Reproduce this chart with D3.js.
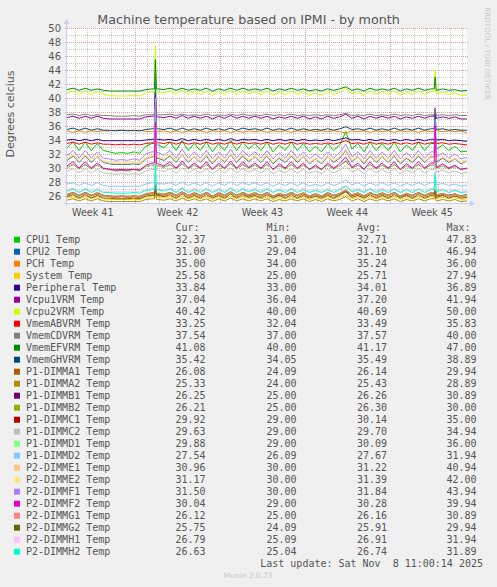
<!DOCTYPE html>
<html>
<head>
<meta charset="utf-8">
<script src="https://cdn.jsdelivr.net/npm/d3@7"></script>
<style>
body { margin: 0; background: #f0f0f0; }
svg { display: block; }
text { font-family: "DejaVu Sans", sans-serif; fill: #555; }
.mono { font-family: "DejaVu Sans Mono", monospace; }
</style>
</head>
<body>
<div id="chart"></div>
<script>

// sample times, hours after 2025-10-06 09:00 (12h samples, extra ones round the two peaks)
var hours = [0,12,24,36,48,60,72,84,96,108,120,132,144,156,168,
    173,175,177,
    180,192,204,216,228,240,252,264,276,288,300,312,324,336,348,360,372,384,396,408,420,432,444,456,468,480,492,504,516,528,540,552,564,576,588,600,612,624,636,648,660,672,684,696,708,720,
    727,729,731,
    732,744,756,768,780,792];

var seriesNames = ["CPU1 Temp","CPU2 Temp","PCH Temp","System Temp","Peripheral Temp","Vcpu1VRM Temp","Vcpu2VRM Temp",
    "VmemABVRM Temp","VmemCDVRM Temp","VmemEFVRM Temp","VmemGHVRM Temp","P1-DIMMA1 Temp","P1-DIMMA2 Temp","P1-DIMMB1 Temp",
    "P1-DIMMB2 Temp","P1-DIMMC1 Temp","P1-DIMMC2 Temp","P1-DIMMD1 Temp","P1-DIMMD2 Temp","P2-DIMME1 Temp","P2-DIMME2 Temp",
    "P2-DIMMF1 Temp","P2-DIMMF2 Temp","P2-DIMMG1 Temp","P2-DIMMG2 Temp","P2-DIMMH1 Temp","P2-DIMMH2 Temp"];

var seriesColors = ["#00cc00","#0066b3","#ff8000","#ffcc00","#330099","#990099","#ccff00",
    "#ff0000","#808080","#008f00","#00487d","#b35a00","#b38f00","#6b006b",
    "#8fb300","#b30000","#bebebe","#80ff80","#80c9ff","#ffc080","#ffe680",
    "#aa80ff","#ee00cc","#ff8080","#666600","#ffbfff","#00ffcc"];

var curValues = ["32.37","31.00","35.00","25.58","33.84","37.04","40.42","33.25","37.54","41.08","35.42","26.08","25.33","26.25",
    "26.21","29.92","29.63","29.88","27.54","30.96","31.17","31.50","30.04","26.12","25.75","26.79","26.63"];
var minValues = ["31.00","29.04","34.00","25.00","33.00","36.04","40.00","32.04","37.00","40.00","34.05","24.09","24.00","25.00",
    "25.00","29.00","29.00","29.00","26.09","30.00","30.00","30.00","29.00","25.00","24.09","25.09","25.04"];
var avgValues = ["32.71","31.10","35.24","25.71","34.01","37.20","40.69","33.49","37.57","41.17","35.49","26.14","25.43","26.26",
    "26.30","30.14","29.70","30.09","27.67","31.22","31.39","31.84","30.28","26.16","25.91","26.91","26.74"];
var maxValues = ["47.83","46.94","36.00","27.94","36.89","41.94","50.00","35.83","40.00","47.00","38.89","29.94","28.89","30.89",
    "30.00","35.00","34.94","36.00","31.94","40.94","42.00","43.94","39.94","30.89","29.94","31.94","31.89"];

var cpu1 = [32.9,33.7,32.5,33.7,32.5,33.5,32.5,32.3,32.1,32.2,32.1,32.3,32.1,33.1,33.5,
    33.5,45.5,33.3,
    33.3,32.9,33.7,32.5,33.9,32.5,33.5,32.5,33.7,32.3,33.5,32.5,33.9,32.5,33.7,32.7,33.5,32.5,33.7,32.3,33.3,32.5,33.7,32.5,33.5,32.3,33.1,32.3,33.5,32.5,33.3,35.2,32.7,33.5,32.3,33.7,32.5,33.5,32.5,33.7,32.3,33.3,32.5,33.7,32.5,33.5,
    33.5,37.5,32.7,
    32.7,33.3,32.5,33.1,32.3,32.4];
var cpu2 = [31.1,31.7,30.8,31.7,30.8,31.6,30.8,30.6,30.5,30.5,30.5,30.6,30.5,31.3,31.6,
    31.6,44.0,31.4,
    31.4,31.1,31.7,30.8,31.9,30.8,31.6,30.8,31.7,30.6,31.6,30.8,31.9,30.8,31.7,30.9,31.6,30.8,31.7,30.6,31.4,30.8,31.7,30.8,31.6,30.6,31.3,30.6,31.6,30.8,31.4,32.5,30.9,31.6,30.6,31.7,30.8,31.6,30.8,31.7,30.6,31.4,30.8,31.7,30.8,31.6,
    31.6,37.0,30.9,
    30.9,31.4,30.8,31.3,30.6,31.0];
var pch = [35.3,35.1,35.3,35.1,35.3,35.2,35.3,35.3,35.4,35.4,35.4,35.3,35.4,35.2,35.2,
    35.2,35.8,35.2,
    35.2,35.3,35.1,35.3,35.1,35.3,35.2,35.3,35.1,35.3,35.2,35.3,35.1,35.3,35.1,35.3,35.2,35.3,35.1,35.3,35.2,35.3,35.1,35.3,35.2,35.3,35.2,35.3,35.2,35.3,35.2,35.0,35.3,35.2,35.3,35.1,35.3,35.2,35.3,35.1,35.3,35.2,35.3,35.1,35.3,35.2,
    35.2,35.6,35.3,
    35.3,35.2,35.3,35.2,35.3,35.0];
var system = [25.7,25.9,25.6,25.9,25.6,25.9,25.6,25.5,25.5,25.5,25.5,25.5,25.5,25.8,25.9,
    25.9,26.8,25.8,
    25.8,25.7,25.9,25.6,26.0,25.6,25.9,25.6,25.9,25.5,25.9,25.6,26.0,25.6,25.9,25.6,25.9,25.6,25.9,25.5,25.8,25.6,25.9,25.6,25.9,25.5,25.8,25.5,25.9,25.6,25.8,26.2,25.6,25.9,25.5,25.9,25.6,25.9,25.6,25.9,25.5,25.8,25.6,25.9,25.6,25.9,
    25.9,26.2,25.6,
    25.6,25.8,25.6,25.8,25.5,25.6];
var peripheral = [34.0,34.1,33.9,34.1,33.9,34.1,33.9,33.9,33.9,33.9,33.9,33.9,33.9,34.0,34.1,
    34.1,35.5,34.1,
    34.1,34.0,34.1,33.9,34.2,33.9,34.1,33.9,34.1,33.9,34.1,33.9,34.2,33.9,34.1,34.0,34.1,33.9,34.1,33.9,34.1,33.9,34.1,33.9,34.1,33.9,34.0,33.9,34.1,33.9,34.1,34.3,34.0,34.1,33.9,34.1,33.9,34.1,33.9,34.1,33.9,34.1,33.9,34.1,33.9,34.1,
    34.1,34.5,34.0,
    34.0,34.1,33.9,34.0,33.9,33.8];
var vcpu1 = [37.2,37.4,37.1,37.4,37.1,37.4,37.1,37.0,37.0,37.0,37.0,37.0,37.0,37.3,37.4,
    37.4,40.5,37.3,
    37.3,37.2,37.4,37.1,37.5,37.1,37.4,37.1,37.4,37.0,37.4,37.1,37.5,37.1,37.4,37.1,37.4,37.1,37.4,37.0,37.3,37.1,37.4,37.1,37.4,37.0,37.3,37.0,37.4,37.1,37.3,37.7,37.1,37.4,37.0,37.4,37.1,37.4,37.1,37.4,37.0,37.3,37.1,37.4,37.1,37.4,
    37.4,38.6,37.1,
    37.1,37.3,37.1,37.3,37.0,37.0];
var vcpu2 = [40.7,41.0,40.5,41.0,40.5,40.9,40.5,40.4,40.3,40.3,40.3,40.4,40.3,40.7,40.9,
    40.9,47.5,40.8,
    40.8,40.7,41.0,40.5,41.1,40.5,40.9,40.5,41.0,40.4,40.9,40.5,41.1,40.5,41.0,40.6,40.9,40.5,41.0,40.4,40.8,40.5,41.0,40.5,40.9,40.4,40.7,40.4,40.9,40.5,40.8,41.5,40.6,40.9,40.4,41.0,40.5,40.9,40.5,41.0,40.4,40.8,40.5,41.0,40.5,40.9,
    40.9,44.0,40.6,
    40.6,40.8,40.5,40.7,40.4,40.4];
var vmemAB = [33.5,33.7,33.4,33.7,33.4,33.6,33.4,33.4,33.3,33.4,33.3,33.4,33.3,33.5,33.6,
    33.6,35.0,33.6,
    33.6,33.5,33.7,33.4,33.7,33.4,33.6,33.4,33.7,33.4,33.6,33.4,33.7,33.4,33.7,33.5,33.6,33.4,33.7,33.4,33.6,33.4,33.7,33.4,33.6,33.4,33.5,33.4,33.6,33.4,33.6,33.9,33.5,33.6,33.4,33.7,33.4,33.6,33.4,33.7,33.4,33.6,33.4,33.7,33.4,33.6,
    33.6,34.0,33.5,
    33.5,33.6,33.4,33.5,33.4,33.3];
var vmemCD = [37.6,37.7,37.5,37.7,37.5,37.6,37.5,37.5,37.4,37.4,37.4,37.5,37.4,37.6,37.6,
    37.6,39.0,37.6,
    37.6,37.6,37.7,37.5,37.7,37.5,37.6,37.5,37.7,37.5,37.6,37.5,37.7,37.5,37.7,37.5,37.6,37.5,37.7,37.5,37.6,37.5,37.7,37.5,37.6,37.5,37.6,37.5,37.6,37.5,37.6,37.8,37.5,37.6,37.5,37.7,37.5,37.6,37.5,37.7,37.5,37.6,37.5,37.7,37.5,37.6,
    37.6,38.5,37.5,
    37.5,37.6,37.5,37.6,37.5,37.5];
var vmemEF = [41.2,41.4,41.1,41.4,41.1,41.3,41.1,41.0,41.0,41.0,41.0,41.0,41.0,41.2,41.3,
    41.3,45.5,41.3,
    41.3,41.2,41.4,41.1,41.4,41.1,41.3,41.1,41.4,41.0,41.3,41.1,41.4,41.1,41.4,41.1,41.3,41.1,41.4,41.0,41.3,41.1,41.4,41.1,41.3,41.0,41.2,41.0,41.3,41.1,41.3,41.6,41.1,41.3,41.0,41.4,41.1,41.3,41.1,41.4,41.0,41.3,41.1,41.4,41.1,41.3,
    41.3,43.0,41.1,
    41.1,41.3,41.1,41.2,41.0,41.1];
var vmemGH = [35.5,35.7,35.4,35.7,35.4,35.6,35.4,35.4,35.3,35.4,35.3,35.4,35.3,35.5,35.6,
    35.6,38.0,35.6,
    35.6,35.5,35.7,35.4,35.7,35.4,35.6,35.4,35.7,35.4,35.6,35.4,35.7,35.4,35.7,35.5,35.6,35.4,35.7,35.4,35.6,35.4,35.7,35.4,35.6,35.4,35.5,35.4,35.6,35.4,35.6,35.9,35.5,35.6,35.4,35.7,35.4,35.6,35.4,35.7,35.4,35.6,35.4,35.7,35.4,35.6,
    35.6,37.6,35.5,
    35.5,35.6,35.4,35.5,35.4,35.4];
var p1a1 = [26.1,26.4,26.0,26.4,26.0,26.3,26.0,25.9,25.8,25.9,25.8,25.9,25.8,26.2,26.3,
    26.3,27.5,26.2,
    26.2,26.1,26.4,26.0,26.5,26.0,26.3,26.0,26.4,25.9,26.3,26.0,26.5,26.0,26.4,26.0,26.3,26.0,26.4,25.9,26.2,26.0,26.4,26.0,26.3,25.9,26.2,25.9,26.3,26.0,26.2,26.7,26.0,26.3,25.9,26.4,26.0,26.3,26.0,26.4,25.9,26.2,26.0,26.4,26.0,26.3,
    26.3,26.8,26.0,
    26.0,26.2,26.0,26.2,25.9,26.1];
var p1a2 = [25.4,25.6,25.3,25.6,25.3,25.6,25.3,25.2,25.2,25.2,25.2,25.2,25.2,25.5,25.6,
    25.6,27.0,25.5,
    25.5,25.4,25.6,25.3,25.7,25.3,25.6,25.3,25.6,25.2,25.6,25.3,25.7,25.3,25.6,25.3,25.6,25.3,25.6,25.2,25.5,25.3,25.6,25.3,25.6,25.2,25.5,25.2,25.6,25.3,25.5,25.9,25.3,25.6,25.2,25.6,25.3,25.6,25.3,25.6,25.2,25.5,25.3,25.6,25.3,25.6,
    25.6,26.0,25.3,
    25.3,25.5,25.3,25.5,25.2,25.3];
var p1b1 = [26.2,26.5,26.1,26.5,26.1,26.4,26.1,26.0,25.9,26.0,25.9,26.0,25.9,26.3,26.4,
    26.4,28.0,26.3,
    26.3,26.2,26.5,26.1,26.6,26.1,26.4,26.1,26.5,26.0,26.4,26.1,26.6,26.1,26.5,26.1,26.4,26.1,26.5,26.0,26.3,26.1,26.5,26.1,26.4,26.0,26.3,26.0,26.4,26.1,26.3,26.8,26.1,26.4,26.0,26.5,26.1,26.4,26.1,26.5,26.0,26.3,26.1,26.5,26.1,26.4,
    26.4,27.0,26.1,
    26.1,26.3,26.1,26.3,26.0,26.2];
var p1b2 = [26.3,26.5,26.1,26.5,26.1,26.5,26.1,26.0,26.0,26.0,26.0,26.0,26.0,26.3,26.5,
    26.5,28.0,26.4,
    26.4,26.3,26.5,26.1,26.6,26.1,26.5,26.1,26.5,26.0,26.5,26.1,26.6,26.1,26.5,26.2,26.5,26.1,26.5,26.0,26.4,26.1,26.5,26.1,26.5,26.0,26.3,26.0,26.5,26.1,26.4,26.9,26.2,26.5,26.0,26.5,26.1,26.5,26.1,26.5,26.0,26.4,26.1,26.5,26.1,26.5,
    26.5,27.0,26.2,
    26.2,26.4,26.1,26.3,26.0,26.2];
var p1c1 = [30.1,30.5,29.9,30.5,29.9,30.4,29.9,29.8,29.7,29.8,29.7,29.8,29.7,30.2,30.4,
    30.4,32.5,30.3,
    30.3,30.1,30.5,29.9,30.6,29.9,30.4,29.9,30.5,29.8,30.4,29.9,30.6,29.9,30.5,30.0,30.4,29.9,30.5,29.8,30.3,29.9,30.5,29.9,30.4,29.8,30.2,29.8,30.4,29.9,30.3,31.0,30.0,30.4,29.8,30.5,29.9,30.4,29.9,30.5,29.8,30.3,29.9,30.5,29.9,30.4,
    30.4,31.0,30.0,
    30.0,30.3,29.9,30.2,29.8,29.9];
var p1c2 = [29.5,29.9,29.3,29.9,29.3,29.8,29.3,29.2,29.1,29.2,29.1,29.2,29.1,29.6,29.8,
    29.8,32.5,29.7,
    29.7,29.5,29.9,29.3,30.0,29.3,29.8,29.3,29.9,29.2,29.8,29.3,30.0,29.3,29.9,29.4,29.8,29.3,29.9,29.2,29.7,29.3,29.9,29.3,29.8,29.2,29.6,29.2,29.8,29.3,29.7,30.4,29.4,29.8,29.2,29.9,29.3,29.8,29.3,29.9,29.2,29.7,29.3,29.9,29.3,29.8,
    29.8,31.0,29.4,
    29.4,29.7,29.3,29.6,29.2,29.4];
var p1d1 = [30.1,30.6,29.8,30.6,29.8,30.4,29.8,29.7,29.5,29.6,29.5,29.7,29.5,30.2,30.4,
    30.4,33.0,30.3,
    30.3,30.1,30.6,29.8,30.7,29.8,30.4,29.8,30.6,29.7,30.4,29.8,30.7,29.8,30.6,29.9,30.4,29.8,30.6,29.7,30.3,29.8,30.6,29.8,30.4,29.7,30.2,29.7,30.4,29.8,30.3,31.2,29.9,30.4,29.7,30.6,29.8,30.4,29.8,30.6,29.7,30.3,29.8,30.6,29.8,30.4,
    30.4,31.5,29.9,
    29.9,30.3,29.8,30.2,29.7,29.9];
var p1d2 = [27.7,27.9,27.5,27.9,27.5,27.9,27.5,27.4,27.4,27.4,27.4,27.4,27.4,27.7,27.9,
    27.9,30.0,27.8,
    27.8,27.7,27.9,27.5,28.0,27.5,27.9,27.5,27.9,27.4,27.9,27.5,28.0,27.5,27.9,27.6,27.9,27.5,27.9,27.4,27.8,27.5,27.9,27.5,27.9,27.4,27.7,27.4,27.9,27.5,27.8,28.3,27.6,27.9,27.4,27.9,27.5,27.9,27.5,27.9,27.4,27.8,27.5,27.9,27.5,27.9,
    27.9,29.5,27.6,
    27.6,27.8,27.5,27.7,27.4,27.5];
var p2e1 = [31.2,31.8,30.9,31.8,30.9,31.6,30.9,30.7,30.6,30.6,30.6,30.7,30.6,31.3,31.6,
    31.6,37.5,31.5,
    31.5,31.2,31.8,30.9,31.9,30.9,31.6,30.9,31.8,30.7,31.6,30.9,31.9,30.9,31.8,31.0,31.6,30.9,31.8,30.7,31.5,30.9,31.8,30.9,31.6,30.7,31.3,30.7,31.6,30.9,31.5,32.5,31.0,31.6,30.7,31.8,30.9,31.6,30.9,31.8,30.7,31.5,30.9,31.8,30.9,31.6,
    31.6,35.0,31.0,
    31.0,31.5,30.9,31.3,30.7,31.0];
var p2e2 = [31.4,32.0,31.1,32.0,31.1,31.8,31.1,30.9,30.8,30.8,30.8,30.9,30.8,31.5,31.8,
    31.8,38.5,31.7,
    31.7,31.4,32.0,31.1,32.1,31.1,31.8,31.1,32.0,30.9,31.8,31.1,32.1,31.1,32.0,31.2,31.8,31.1,32.0,30.9,31.7,31.1,32.0,31.1,31.8,30.9,31.5,30.9,31.8,31.1,31.7,32.7,31.2,31.8,30.9,32.0,31.1,31.8,31.1,32.0,30.9,31.7,31.1,32.0,31.1,31.8,
    31.8,35.5,31.2,
    31.2,31.7,31.1,31.5,30.9,31.2];
var p2f1 = [31.8,32.5,31.4,32.5,31.4,32.3,31.4,31.3,31.1,31.2,31.1,31.3,31.1,32.0,32.3,
    32.3,40.0,32.2,
    32.2,31.8,32.5,31.4,32.7,31.4,32.3,31.4,32.5,31.3,32.3,31.4,32.7,31.4,32.5,31.6,32.3,31.4,32.5,31.3,32.2,31.4,32.5,31.4,32.3,31.3,32.0,31.3,32.3,31.4,32.2,33.4,31.6,32.3,31.3,32.5,31.4,32.3,31.4,32.5,31.3,32.2,31.4,32.5,31.4,32.3,
    32.3,37.0,31.6,
    31.6,32.2,31.4,32.0,31.3,31.5];
var p2f2 = [30.3,30.9,30.0,30.9,30.0,30.7,30.0,29.8,29.7,29.7,29.7,29.8,29.7,30.4,30.7,
    30.7,36.5,30.6,
    30.6,30.3,30.9,30.0,31.0,30.0,30.7,30.0,30.9,29.8,30.7,30.0,31.0,30.0,30.9,30.1,30.7,30.0,30.9,29.8,30.6,30.0,30.9,30.0,30.7,29.8,30.4,29.8,30.7,30.0,30.6,31.6,30.1,30.7,29.8,30.9,30.0,30.7,30.0,30.9,29.8,30.6,30.0,30.9,30.0,30.7,
    30.7,36.0,30.1,
    30.1,30.6,30.0,30.4,29.8,30.0];
var p2g1 = [26.2,26.4,26.0,26.4,26.0,26.4,26.0,25.9,25.9,25.9,25.9,25.9,25.9,26.2,26.4,
    26.4,28.0,26.3,
    26.3,26.2,26.4,26.0,26.5,26.0,26.4,26.0,26.4,25.9,26.4,26.0,26.5,26.0,26.4,26.1,26.4,26.0,26.4,25.9,26.3,26.0,26.4,26.0,26.4,25.9,26.2,25.9,26.4,26.0,26.3,26.8,26.1,26.4,25.9,26.4,26.0,26.4,26.0,26.4,25.9,26.3,26.0,26.4,26.0,26.4,
    26.4,27.0,26.1,
    26.1,26.3,26.0,26.2,25.9,26.1];
var p2g2 = [25.9,26.2,25.7,26.2,25.7,26.1,25.7,25.7,25.6,25.6,25.6,25.7,25.6,26.0,26.1,
    26.1,27.5,26.1,
    26.1,25.9,26.2,25.7,26.3,25.7,26.1,25.7,26.2,25.7,26.1,25.7,26.3,25.7,26.2,25.8,26.1,25.7,26.2,25.7,26.1,25.7,26.2,25.7,26.1,25.7,26.0,25.7,26.1,25.7,26.1,26.6,25.8,26.1,25.7,26.2,25.7,26.1,25.7,26.2,25.7,26.1,25.7,26.2,25.7,26.1,
    26.1,26.8,25.8,
    25.8,26.1,25.7,26.0,25.7,25.8];
var p2h1 = [26.9,27.1,26.7,27.1,26.7,27.1,26.7,26.6,26.6,26.6,26.6,26.6,26.6,26.9,27.1,
    27.1,30.0,27.0,
    27.0,26.9,27.1,26.7,27.2,26.7,27.1,26.7,27.1,26.6,27.1,26.7,27.2,26.7,27.1,26.8,27.1,26.7,27.1,26.6,27.0,26.7,27.1,26.7,27.1,26.6,26.9,26.6,27.1,26.7,27.0,27.5,26.8,27.1,26.6,27.1,26.7,27.1,26.7,27.1,26.6,27.0,26.7,27.1,26.7,27.1,
    27.1,28.5,26.8,
    26.8,27.0,26.7,26.9,26.6,26.8];
var p2h2 = [26.7,27.0,26.5,27.0,26.5,26.9,26.5,26.5,26.4,26.4,26.4,26.5,26.4,26.8,26.9,
    26.9,30.5,26.9,
    26.9,26.7,27.0,26.5,27.1,26.5,26.9,26.5,27.0,26.5,26.9,26.5,27.1,26.5,27.0,26.6,26.9,26.5,27.0,26.5,26.9,26.5,27.0,26.5,26.9,26.5,26.8,26.5,26.9,26.5,26.9,27.4,26.6,26.9,26.5,27.0,26.5,26.9,26.5,27.0,26.5,26.9,26.5,27.0,26.5,26.9,
    26.9,29.0,26.6,
    26.6,26.9,26.5,26.8,26.5,26.6];

var seriesValues = [cpu1, cpu2, pch, system, peripheral, vcpu1, vcpu2, vmemAB, vmemCD, vmemEF, vmemGH,
    p1a1, p1a2, p1b1, p1b2, p1c1, p1c2, p1d1, p1d2, p2e1, p2e2, p2f1, p2f2, p2g1, p2g2, p2h1, p2h2];

var yTicks = [26, 28, 30, 32, 34, 36, 38, 40, 42, 44, 46, 48, 50];
var weekLabels = ["Week 41", "Week 42", "Week 43", "Week 44", "Week 45"];

var W = 497, H = 587;
var margin = {top: 28, right: 30, bottom: 384, left: 67};
var start = new Date(Date.UTC(2025, 9, 6, 9));
var end = d3.utcHour.offset(start, 792);

var svg = d3.select("#chart").append("svg")
    .attr("width", W)
    .attr("height", H);

var x = d3.scaleUtc()
    .domain([start, end])
    .range([margin.left, W - margin.right]);

var y = d3.scaleLinear()
    .domain([25, 50])
    .range([H - margin.bottom, margin.top]);

// plot canvas
svg.append("rect")
    .attr("x", x.range()[0])
    .attr("y", y(50))
    .attr("width", x.range()[1] - x.range()[0])
    .attr("height", y(25) - y(50))
    .attr("fill", "#fff");

// grid: grey for days / odd degrees, red for weeks / labelled degrees
var grid = svg.append("g").attr("stroke-dasharray", "1,1").attr("stroke-width", 1);
var minorColor = "#cacaca", majorColor = "#e39c9c";

var days = d3.utcDay.range(start, end);
grid.selectAll(".vminor")
    .data(days.filter(d => d.getUTCDay() != 0))
    .join("line")
    .attr("x1", d => Math.round(x(d)) + 0.5)
    .attr("x2", d => Math.round(x(d)) + 0.5)
    .attr("y1", y(25))
    .attr("y2", y(50))
    .attr("stroke", minorColor);

var minorY = d3.range(27, 50, 2);
grid.selectAll(".hminor")
    .data(minorY)
    .join("line")
    .attr("x1", x.range()[0])
    .attr("x2", x.range()[1])
    .attr("y1", d => Math.round(y(d)) + 0.5)
    .attr("y2", d => Math.round(y(d)) + 0.5)
    .attr("stroke", minorColor);

var sundays = d3.utcSunday.range(start, end);
grid.selectAll(".vmajor")
    .data(sundays)
    .join("line")
    .attr("x1", d => Math.round(x(d)) + 0.5)
    .attr("x2", d => Math.round(x(d)) + 0.5)
    .attr("y1", y(25))
    .attr("y2", y(50))
    .attr("stroke", majorColor);

grid.selectAll(".hmajor")
    .data(yTicks)
    .join("line")
    .attr("x1", x.range()[0] - 2)
    .attr("x2", x.range()[1] + 2)
    .attr("y1", d => Math.round(y(d)) + 0.5)
    .attr("y2", d => Math.round(y(d)) + 0.5)
    .attr("stroke", majorColor);

// the temperature lines, drawn in legend order
var line = d3.line()
    .x((d, i) => x(d3.utcHour.offset(start, hours[i])))
    .y(d => y(d));

svg.append("g")
    .attr("fill", "none")
    .attr("stroke-width", 1)
    .selectAll("path")
    .data(seriesValues)
    .join("path")
    .attr("stroke", (d, i) => seriesColors[i])
    .attr("d", line);

// axes with arrows
var axisColor = "#c9d0f4";
var x0 = Math.round(x.range()[0]) - 0.5;
var yb = Math.round(y(25)) + 0.5;
svg.append("line")
    .attr("x1", x0).attr("x2", x0)
    .attr("y1", yb + 3).attr("y2", y(50) - 5)
    .attr("stroke", axisColor);
svg.append("path")
    .attr("d", "M" + (x0 - 3) + "," + (y(50) - 4) + "L" + (x0 + 3) + "," + (y(50) - 4) + "L" + x0 + "," + (y(50) - 9) + "Z")
    .attr("fill", axisColor);
svg.append("line")
    .attr("x1", x0 - 3).attr("x2", x.range()[1] + 4)
    .attr("y1", yb).attr("y2", yb)
    .attr("stroke", axisColor);
svg.append("path")
    .attr("d", "M" + (x.range()[1] + 3) + "," + (yb - 3) + "L" + (x.range()[1] + 3) + "," + (yb + 3) + "L" + (x.range()[1] + 8) + "," + yb + "Z")
    .attr("fill", axisColor);

// y tick labels
svg.append("g")
    .selectAll("text")
    .data(yTicks)
    .join("text")
    .attr("x", x.range()[0] - 6)
    .attr("y", d => y(d))
    .attr("dy", "0.36em")
    .attr("text-anchor", "end")
    .style("font-size", "10px")
    .text(d => d);

// week labels, centred in each week
var weekStarts = d3.utcSunday.range(d3.utcSunday.floor(start), end);
svg.append("g")
    .selectAll("text")
    .data(weekStarts)
    .join("text")
    .attr("x", d => x(d3.utcHour.offset(d, 84)))
    .attr("y", y(25) + 13)
    .attr("text-anchor", "middle")
    .style("font-size", "9.6px")
    .text((d, i) => weekLabels[i]);

// titles
svg.append("text")
    .attr("x", W / 2)
    .attr("y", 23.5)
    .attr("text-anchor", "middle")
    .style("font-size", "12.7px")
    .text("Machine temperature based on IPMI - by month");

svg.append("text")
    .attr("transform", "translate(14,114) rotate(-90)")
    .attr("text-anchor", "middle")
    .style("font-size", "11px")
    .text("Degrees celcius");

svg.append("text")
    .attr("transform", "translate(485,53.5) rotate(90)")
    .attr("text-anchor", "middle")
    .style("font-size", "7.2px")
    .style("fill", "#c8c8c8")
    .text("RRDTOOL / TOBI OETIKER");

// legend
var legend = svg.append("g").attr("class", "mono").style("font-size", "10px");
var colEnds = [205.5, 296.5, 387, 476.5];
var heads = ["Cur:", "Min:", "Avg:", "Max:"];
heads.forEach(function(h, k) {
    legend.append("text")
        .attr("class", "mono")
        .attr("x", colEnds[k] - 30)
        .attr("y", 227.3)
        .attr("dy", "0.36em")
        .text(h);
});

var rows = legend.selectAll(".row")
    .data(seriesNames)
    .join("g")
    .attr("transform", (d, i) => "translate(0," + (239.7 + i * 12) + ")");

rows.append("rect")
    .attr("x", 14).attr("y", -3)
    .attr("width", 6).attr("height", 6)
    .attr("fill", (d, i) => seriesColors[i]);

rows.append("text")
    .attr("class", "mono")
    .attr("x", 26)
    .attr("dy", "0.36em")
    .text(d => d);

[curValues, minValues, avgValues, maxValues].forEach(function(col, k) {
    rows.append("text")
        .attr("class", "mono")
        .attr("x", colEnds[k])
        .attr("dy", "0.36em")
        .attr("text-anchor", "end")
        .text((d, i) => col[i]);
});

svg.append("text")
    .attr("class", "mono")
    .attr("x", 483)
    .attr("y", 563.3)
    .attr("dy", "0.36em")
    .attr("text-anchor", "end")
    .attr("xml:space", "preserve")
    .style("white-space", "pre")
    .style("font-size", "10px")
    .text("Last update: Sat Nov  8 11:00:14 2025");

svg.append("text")
    .attr("x", 248)
    .attr("y", 575.7)
    .attr("dy", "0.36em")
    .attr("text-anchor", "middle")
    .style("font-size", "7.5px")
    .style("fill", "#c8c8c8")
    .text("Munin 2.0.73");

</script>
